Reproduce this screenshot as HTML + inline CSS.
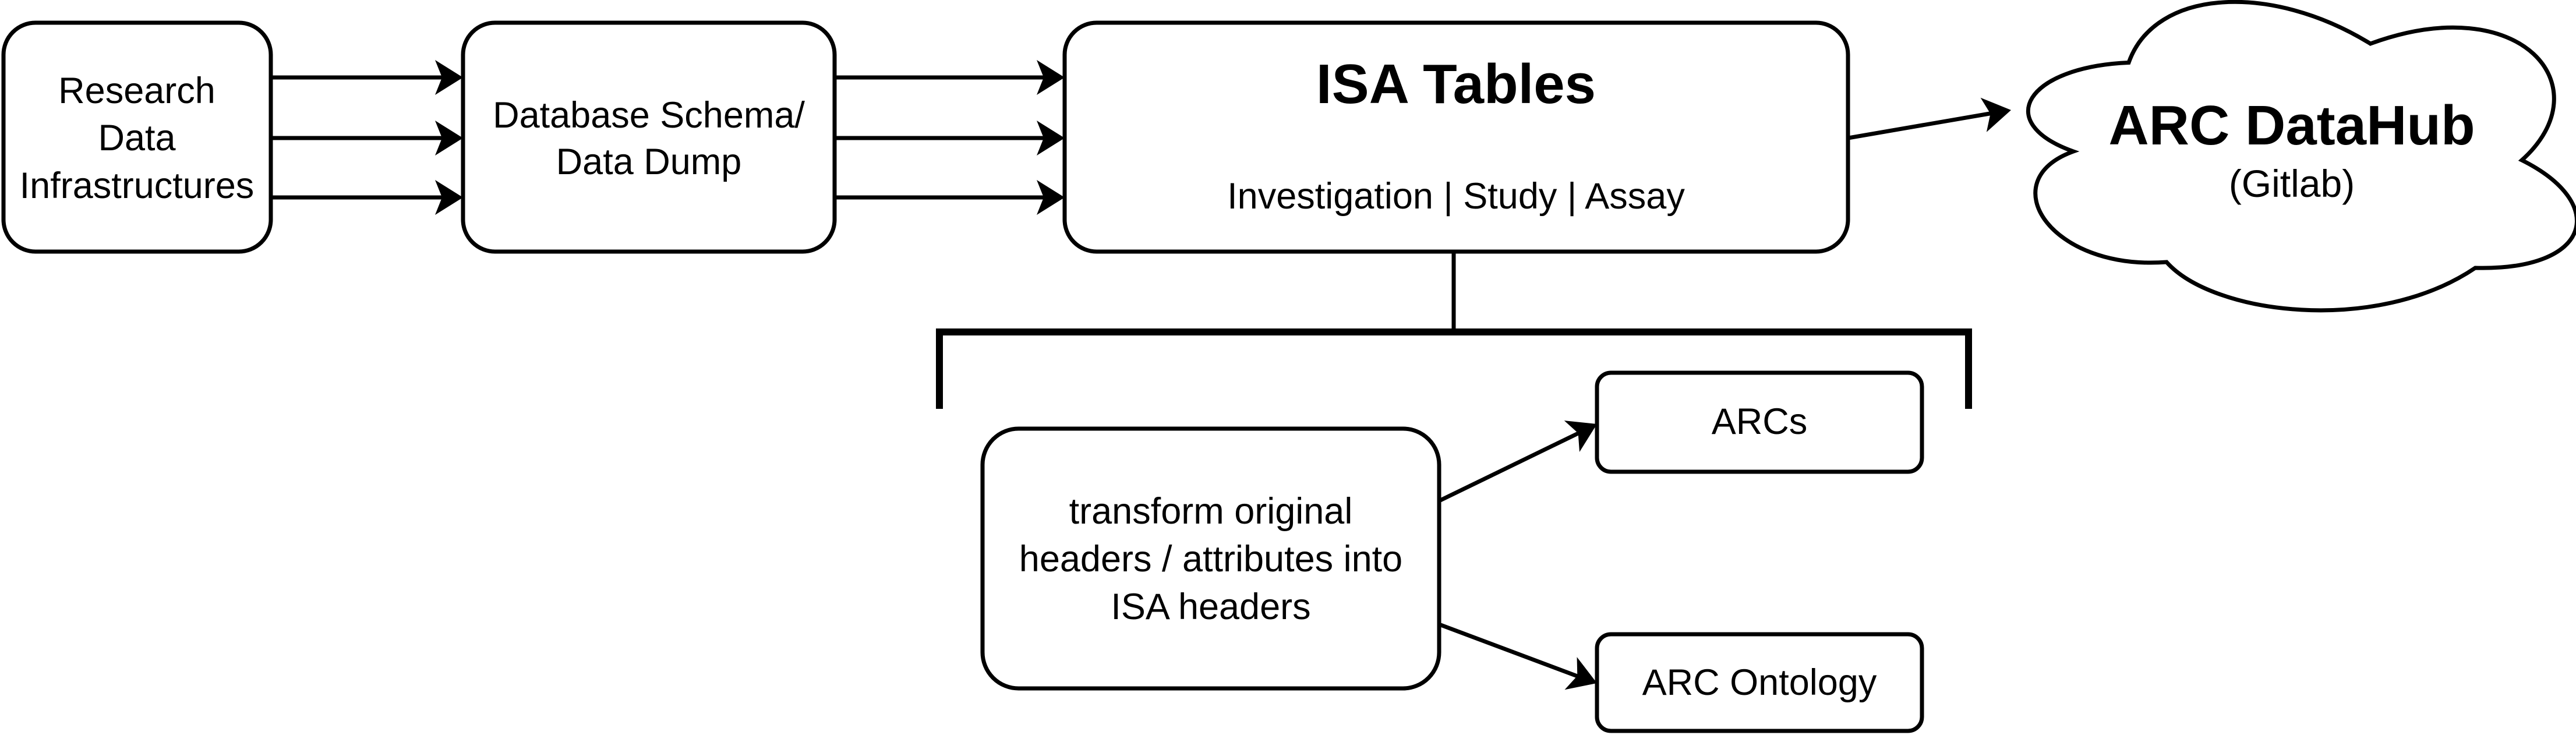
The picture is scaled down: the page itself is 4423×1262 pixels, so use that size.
<!DOCTYPE html>
<html><head><meta charset="utf-8"><style>
html,body{margin:0;padding:0;background:#fff;}
svg{display:block;}
</style></head><body>
<svg width="4423" height="1262" viewBox="0 0 4423 1262" xmlns="http://www.w3.org/2000/svg">
<g fill="#fff" stroke="#000" stroke-width="7">
<rect x="6" y="39" width="459" height="393" rx="55"/>
<rect x="795" y="39" width="638" height="393" rx="55"/>
<rect x="1828" y="39" width="1345" height="393" rx="55"/>
<rect x="1687" y="736" width="784" height="446" rx="62"/>
<rect x="2742" y="640" width="558" height="170" rx="24"/>
<rect x="2742" y="1089" width="558" height="166" rx="24"/>
<path d="M3655,215 C3480,230 3420,420 3560,520 C3420,620 3520,930 3720,900 C3800,1080 4080,1150 4250,920 C4450,930 4480,700 4330,550 C4470,300 4330,-40 4070,150 C3900,-60 3700,-40 3655,215 Z" transform="scale(1,0.5)" vector-effect="non-scaling-stroke"/>
</g>
<g stroke="#000" stroke-width="7" fill="none">
<line x1="465" y1="133" x2="770" y2="133"/>
<line x1="465" y1="237" x2="770" y2="237"/>
<line x1="465" y1="339" x2="770" y2="339"/>
<line x1="1433" y1="133" x2="1803" y2="133"/>
<line x1="1433" y1="237" x2="1803" y2="237"/>
<line x1="1433" y1="339" x2="1803" y2="339"/>
<line x1="3173" y1="237" x2="3428" y2="193"/>
<line x1="2471" y1="860" x2="2720" y2="739"/>
<line x1="2471" y1="1072" x2="2719" y2="1165"/>
<line x1="2496" y1="432" x2="2496" y2="570"/>
</g>
<path d="M1613,702 V570 H3380 V702" stroke="#000" stroke-width="12" fill="none"/>
<g fill="#000">
<polygon points="795,133 747,103 759,133 747,163"/>
<polygon points="795,237 747,207 759,237 747,267"/>
<polygon points="795,339 747,309 759,339 747,369"/>
<polygon points="1828,133 1780,103 1792,133 1780,163"/>
<polygon points="1828,237 1780,207 1792,237 1780,267"/>
<polygon points="1828,339 1780,309 1792,339 1780,369"/>
<g transform="translate(3453,189) rotate(-9.9)"><polygon points="0,0 -48,-30 -36,0 -48,30"/></g>
<g transform="translate(2742,728) rotate(-26)"><polygon points="0,0 -48,-30 -36,0 -48,30"/></g>
<g transform="translate(2742,1173) rotate(20.5)"><polygon points="0,0 -48,-30 -36,0 -48,30"/></g>
</g>
<g font-family="Liberation Sans, Arial, sans-serif" font-size="63" text-anchor="middle" fill="#000">
<text x="235" y="177">Research</text>
<text x="235" y="258">Data</text>
<text x="235" y="340">Infrastructures</text>
<text x="1114" y="219">Database Schema/</text>
<text x="1114" y="299">Data Dump</text>
<text x="2500" y="358">Investigation | Study | Assay</text>
<text x="2079" y="899">transform original</text>
<text x="2079" y="981">headers / attributes into</text>
<text x="2079" y="1063">ISA headers</text>
<text x="3021" y="745">ARCs</text>
<text x="3021" y="1193">ARC Ontology</text>
<text x="3935" y="338" font-size="66">(Gitlab)</text>
<text x="2500" y="177" font-size="96" font-weight="bold">ISA Tables</text>
<text x="3935" y="248" font-size="96" font-weight="bold">ARC DataHub</text>
</g>
</svg>
</body></html>
